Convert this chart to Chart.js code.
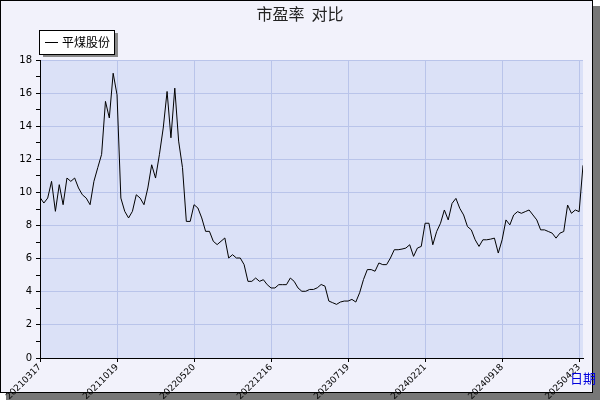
<!DOCTYPE html>
<html><head><meta charset="utf-8">
<script src="https://cdn.jsdelivr.net/npm/chart.js@4"></script>
<style>body{margin:0;background:#fff}canvas{display:block}</style>
</head><body>
<div style="width:600px;height:400px"><canvas id="c"></canvas></div>
<script>
const titleText = "市盈率  对比";
const seriesName = "平煤股份";
const axisName = "日期";
const xTickLabels = ["20210317","20211019","20220520","20221216","20230719","20240221","20240918","20250423"];
const yTicks = [0,2,4,6,8,10,12,14,16,18];
const peValues = [
9.7,9.36,9.66,10.67,8.86,10.47,9.26,10.87,10.67,10.87,
10.27,9.86,9.66,9.26,10.67,11.5,12.3,15.5,14.5,17.2,
15.9,9.66,8.86,8.46,8.86,9.86,9.66,9.26,10.27,11.67,
10.87,12.28,13.89,16.1,13.3,16.3,13.1,11.5,8.25,8.25,
9.26,9.06,8.46,7.65,7.65,7.05,6.85,7.05,7.25,6.04,
6.24,6.04,6.04,5.64,4.63,4.63,4.83,4.63,4.73,4.43,
4.23,4.23,4.43,4.43,4.43,4.83,4.63,4.23,4.03,4.03,
4.14,4.14,4.24,4.44,4.34,3.44,3.34,3.24,3.38,3.44,
3.44,3.54,3.38,3.94,4.74,5.34,5.34,5.24,5.74,5.64,
5.64,6.04,6.54,6.54,6.58,6.64,6.84,6.14,6.64,6.74,
8.14,8.14,6.84,7.64,8.14,8.94,8.34,9.34,9.64,9.04,
8.64,7.94,7.74,7.14,6.74,7.14,7.14,7.18,7.24,6.34,
7.14,8.34,8.04,8.64,8.84,8.74,8.84,8.94,8.64,8.34,
7.74,7.74,7.64,7.54,7.24,7.54,7.64,9.24,8.74,8.94,
8.84,11.64];
const pointsPerLabel = 20;

const frame = {
  id:'frame',
  beforeDraw(ch){
    const c=ch.ctx, a=ch.chartArea;
    c.save();
    c.fillStyle='#777'; c.fillRect(6,6,594,394);
    c.fillStyle='#f2f2fb'; c.fillRect(0,0,593,393);
    c.strokeStyle='#000'; c.lineWidth=1; c.strokeRect(0.5,0.5,592,392);
    c.fillStyle='#dbe1f7'; c.fillRect(a.left,a.top,a.right-a.left,a.bottom-a.top);
    c.restore();
  },
  afterDraw(ch){
    const c=ch.ctx;
    c.save();
    c.fillStyle='#222'; c.font='16px "Noto Sans CJK SC"'; c.textAlign='center'; c.textBaseline='middle';
    c.fillText(titleText,300,14);
    c.fillStyle='#888'; c.fillRect(43,33,75,24);
    c.fillStyle='#fff'; c.fillRect(39,30,75,24);
    c.strokeStyle='#000'; c.strokeRect(39.5,30.5,75,24);
    c.beginPath(); c.moveTo(45,42.5); c.lineTo(58,42.5); c.stroke();
    c.fillStyle='#000'; c.font='12px "Noto Sans CJK SC"'; c.textAlign='left';
    c.fillText(seriesName,62,42);
    c.fillStyle='#0000dd'; c.font='13px "Noto Sans CJK SC"'; c.textAlign='center';
    c.fillText(axisName,583,378);
    c.restore();
  }
};

new Chart(document.getElementById('c'),{
  type:'line',
  data:{datasets:[{label:seriesName,data:peValues.map((v,i)=>({x:i,y:v})),borderColor:'#000',borderWidth:1,pointRadius:0,tension:0}]},
  options:{
    responsive:true,maintainAspectRatio:false,animation:false,
    layout:{padding:{top:60,right:17,left:0,bottom:0}},
    plugins:{legend:{display:false},tooltip:{enabled:false}},
    scales:{
      x:{type:'linear',min:0,max:peValues.length-1,
        afterBuildTicks(s){s.ticks=xTickLabels.map((l,i)=>({value:i*pointsPerLabel}));},
        afterFit(s){s.height=42;},
        border:{color:'#000'},
        grid:{color:'#b9c4ea',tickColor:'#000',tickLength:4},
        ticks:{autoSkip:false,maxRotation:45,minRotation:45,color:'#000',font:{size:9,family:'DejaVu Sans'},padding:0,
          callback:(v)=>xTickLabels[Math.round(v/pointsPerLabel)]}
      },
      y:{min:yTicks[0],max:yTicks[yTicks.length-1],
        afterBuildTicks(s){const t=[];for(let v=0;v<=18;v++)t.push({value:v});s.ticks=t;},
        afterFit(s){s.width=40;},
        border:{color:'#000'},
        grid:{color:(ctx)=>(ctx.tick&&yTicks.includes(ctx.tick.value)&&ctx.tick.value>0)?'#b9c4ea':'rgba(0,0,0,0)',tickColor:'#000',tickLength:4},
        ticks:{color:'#000',font:{size:10,family:'DejaVu Sans'},padding:4,
          callback:(v)=>yTicks.includes(v)?String(v):''}
      }
    }
  },
  plugins:[frame]
});
</script>
</body></html>
